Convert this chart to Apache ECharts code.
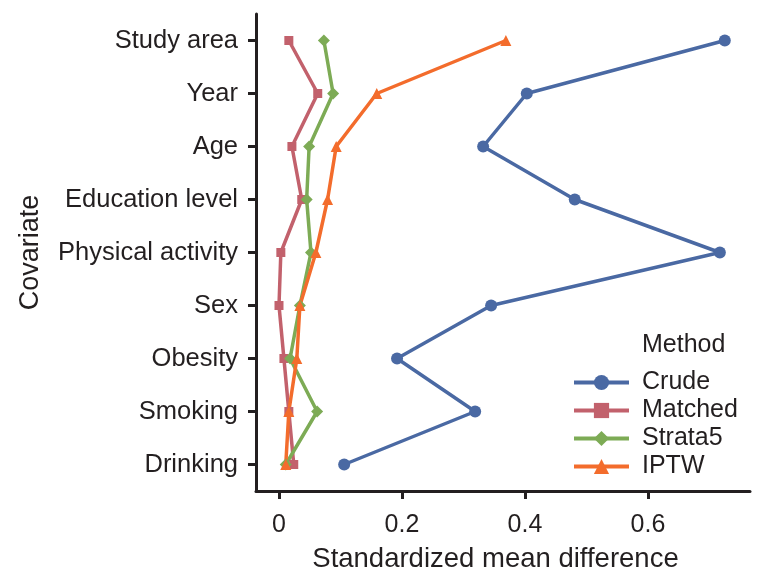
<!DOCTYPE html>
<html>
<head>
<meta charset="utf-8">
<script src="https://cdn.jsdelivr.net/npm/echarts@6/dist/echarts.min.js"></script>
<style>
html,body{margin:0;padding:0;background:#fff;}
#chart{width:766px;height:586px;}
</style>
</head>
<body>
<div id="chart"></div>
<script>
// Categories listed bottom to top
var categories = ['Drinking','Smoking','Obesity','Sex','Physical activity','Education level','Age','Year','Study area'];
var crude    = [0.106, 0.319, 0.192, 0.345, 0.717, 0.481, 0.332, 0.403, 0.725];
var matched  = [0.024, 0.016, 0.008, 0.000, 0.003, 0.037, 0.021, 0.063, 0.016];
var strata5  = [0.011, 0.062, 0.018, 0.034, 0.052, 0.045, 0.049, 0.088, 0.073];
var iptw     = [0.011, 0.016, 0.029, 0.034, 0.060, 0.079, 0.093, 0.159, 0.369];
var xTicks   = [0, 0.2, 0.4, 0.6];
var seriesNames = ['Crude','Matched','Strata5','IPTW'];

var FONT = '"Liberation Sans", Arial, sans-serif';
var TXT = '#231f20';
function pairs(arr){ return arr.map(function(v,i){ return [v, categories[i]]; }); }
function mk(name, arr, color, symbol, size){
  return {
    name: name, type: 'line', data: pairs(arr),
    symbol: symbol, symbolSize: size, showSymbol: true,
    lineStyle: {color: color, width: 3.5},
    itemStyle: {color: color},
    emphasis: {disabled: true},
    animation: false
  };
}
var chart = echarts.init(document.getElementById('chart'), null, {renderer:'canvas'});
chart.setOption({
  backgroundColor: '#fff',
  animation: false,
  grid: {left: 256, top: 14, right: 16, bottom: 95, containLabel: false},
  title: {text: 'Method', left: 642, top: 333, padding: 0,
    textStyle: {fontFamily: FONT, fontSize: 25, fontWeight: 'normal', color: TXT}},
  legend: {
    orient: 'vertical', left: 572, top: 370, padding: 0,
    itemWidth: 55, itemHeight: 19, itemGap: 3,
    data: seriesNames,
    lineStyle: {width: 4},
    textStyle: {fontFamily: FONT, fontSize: 25, color: TXT, lineHeight: 25, padding: [0,0,0,8]}
  },
  xAxis: {
    type: 'value', min: -0.0374, max: 0.766,
    name: 'Standardized mean difference', nameLocation: 'middle', nameGap: 54,
    nameTextStyle: {fontFamily: FONT, fontSize: 27.5, color: TXT, padding: [0, 15, 0, 0]},
    axisLine: {show: true, onZero: false, lineStyle: {color: TXT, width: 3}},
    axisTick: {show: true, length: 8, lineStyle: {color: TXT, width: 3}, customValues: xTicks},
    axisLabel: {fontFamily: FONT, fontSize: 25, color: TXT, margin: 22, customValues: xTicks,
      formatter: function(v){ return String(v); }},
    splitLine: {show: false}
  },
  yAxis: {
    type: 'category', data: categories, boundaryGap: true,
    name: 'Covariate', nameLocation: 'middle', nameGap: 212,
    nameTextStyle: {fontFamily: FONT, fontSize: 27, color: TXT},
    axisLine: {show: true, onZero: false, lineStyle: {color: TXT, width: 3}},
    axisTick: {show: true, alignWithLabel: true, length: 8, lineStyle: {color: TXT, width: 3}},
    axisLabel: {fontFamily: FONT, fontSize: 25.5, color: TXT, margin: 18},
    splitLine: {show: false}
  },
  series: [
    mk('Crude', crude, '#4a69a3', 'circle', 12),
    mk('Matched', matched, '#c2616c', 'rect', 9),
    mk('Strata5', strata5, '#7dab55', 'diamond', 12),
    mk('IPTW', iptw, '#f36c2c', 'triangle', 11)
  ]
});
</script>
</body>
</html>
